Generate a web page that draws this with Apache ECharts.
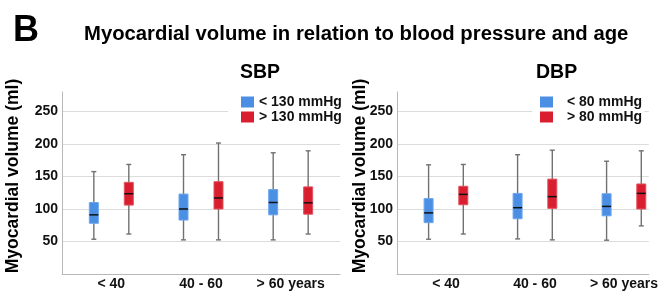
<!DOCTYPE html>
<html>
<head>
<meta charset="utf-8">
<script src="https://cdn.jsdelivr.net/npm/echarts@6/dist/echarts.min.js"></script>
<style>
  html, body { margin: 0; padding: 0; background: #fff; }
  #chart { width: 661px; height: 291px; }
</style>
</head>
<body>
<div id="chart"></div>
<script>
// age groups on the x axis
const ageGroups = ['< 40', '40 - 60', '> 60 years'];
const yTicks = [50, 100, 150, 200, 250];

// each row: [min, Q1, median, Q3, max] in ml
const sbpLow = [[53.5, 78, 91, 110, 157.5], [52.5, 83, 100, 123, 183.5], [52.5, 91, 110, 130, 186.5]];
const sbpHigh = [[61.5, 106, 123.5, 141, 168.5], [52.5, 100, 117, 142, 201.5], [61.5, 92, 109.5, 134, 189.5]];
const dbpLow = [[53.5, 79, 94, 116, 168], [54, 85, 102, 124, 183.5], [52, 89.5, 104, 123.5, 173.5]];
const dbpHigh = [[61.5, 106.5, 122.5, 135, 168.5], [52.5, 101, 119, 146, 190.5], [74, 100, 124, 138.5, 189.5]];

const BLUE = '#4a8fe4';
const RED = '#d91f2f';
const FONT = '"Liberation Sans", Arial, Helvetica, sans-serif';

function toRows(arr) {
  return arr.map(function (r, i) { return [i + 1].concat(r); });
}

function boxRenderer(offset, color, edge) {
  return function (params, api) {
    const x = api.value(0) + offset;
    const lo = api.coord([x, api.value(1)]);
    const q1 = api.coord([x, api.value(2)]);
    const md = api.coord([x, api.value(3)]);
    const q3 = api.coord([x, api.value(4)]);
    const hi = api.coord([x, api.value(5)]);
    const w = 9, cap = 5;
    const whisker = { stroke: '#717171', lineWidth: 1.4 };
    return {
      type: 'group',
      children: [
        { type: 'line', shape: { x1: hi[0], y1: hi[1], x2: lo[0], y2: lo[1] }, style: whisker },
        { type: 'line', shape: { x1: hi[0] - cap / 2, y1: hi[1], x2: hi[0] + cap / 2, y2: hi[1] }, style: whisker },
        { type: 'line', shape: { x1: lo[0] - cap / 2, y1: lo[1], x2: lo[0] + cap / 2, y2: lo[1] }, style: whisker },
        { type: 'rect', shape: { x: q3[0] - w / 2, y: q3[1], width: w, height: q1[1] - q3[1] },
          style: { fill: color, stroke: edge, lineWidth: 1 } },
        { type: 'line', shape: { x1: md[0] - w / 2, y1: md[1], x2: md[0] + w / 2, y2: md[1] },
          style: { stroke: '#111', lineWidth: 1.5 } }
      ]
    };
  };
}

function boxSeries(name, rows, axisIdx, offset, color, edge) {
  return {
    name: name,
    type: 'custom',
    xAxisIndex: axisIdx,
    yAxisIndex: axisIdx,
    itemStyle: { color: color },
    encode: { x: 0, y: [1, 2, 3, 4, 5] },
    data: toRows(rows),
    renderItem: boxRenderer(offset, color, edge)
  };
}

function makeYAxis(idx) {
  return {
    type: 'value',
    gridIndex: idx,
    min: 0,
    max: 280,
    interval: 50,
    axisLine: { show: true, lineStyle: { color: '#b8b8b8', width: 1 } },
    axisTick: { show: false },
    splitLine: { show: true, showMinLine: false, showMaxLine: false, lineStyle: { color: '#dcdcdc', width: 1 } },
    axisLabel: {
      showMinLabel: false,
      showMaxLabel: false,
      margin: 4,
      color: '#111',
      fontFamily: FONT,
      fontWeight: 'bold',
      fontSize: 14,
      formatter: function (v) { return yTicks.indexOf(v) >= 0 ? String(v) : ''; }
    }
  };
}

function makeXAxis(idx, max) {
  return {
    type: 'value',
    gridIndex: idx,
    min: 0.45,
    max: max,
    axisLine: { show: true, lineStyle: { color: '#b8b8b8', width: 1 } },
    axisTick: { show: false },
    splitLine: { show: false },
    axisLabel: {
      customValues: [1, 2, 3],
      margin: 3,
      color: '#111',
      fontFamily: FONT,
      fontWeight: 'bold',
      fontSize: 14,
      formatter: function (v) { return ageGroups[Math.round(v) - 1] || ''; }
    }
  };
}

function makeLegend(names, left, padLeft, textPad) {
  return {
    orient: 'vertical',
    left: left,
    top: 92,
    data: names,
    icon: 'rect',
    itemWidth: 13,
    itemHeight: 11,
    itemGap: 1,
    backgroundColor: '#fff',
    padding: [3, 2, 3, padLeft],
    textStyle: {
      color: '#111',
      fontFamily: FONT,
      fontWeight: 'bold',
      fontSize: 14,
      lineHeight: 14,
      padding: [0, 0, 0, textPad]
    }
  };
}

function titleText(text, left, top, size) {
  return {
    text: text, left: left, top: top, padding: 0,
    textStyle: { fontFamily: FONT, fontWeight: 'bold', fontSize: size, color: '#000' }
  };
}

const chart = echarts.init(document.getElementById('chart'), null, { renderer: 'canvas' });

chart.setOption({
  animation: false,
  backgroundColor: '#fff',
  title: [
    titleText('B', 13, 13, 36),
    titleText('Myocardial volume in relation to blood pressure and age', 84, 24, 20.3),
    titleText('SBP', 240, 63, 19.5),
    titleText('DBP', 536, 63, 19.5)
  ],
  legend: [
    makeLegend(['< 130 mmHg', '> 130 mmHg'], 228, 13, 0),
    makeLegend(['< 80 mmHg', '> 80 mmHg'], 532, 8, 9)
  ],
  grid: [
    { left: 62, top: 92, right: 321, bottom: 15 },
    { left: 397, top: 92, right: 10, bottom: 15 }
  ],
  xAxis: [makeXAxis(0, 3.55), makeXAxis(1, 3.28)],
  yAxis: [makeYAxis(0), makeYAxis(1)],
  graphic: [
    { type: 'text', x: 13, y: 176, rotation: Math.PI / 2,
      style: { text: 'Myocardial volume (ml)', align: 'center', verticalAlign: 'middle', fill: '#000',
               font: 'bold 17.5px ' + FONT } },
    { type: 'text', x: 360, y: 176, rotation: Math.PI / 2,
      style: { text: 'Myocardial volume (ml)', align: 'center', verticalAlign: 'middle', fill: '#000',
               font: 'bold 17.5px ' + FONT } }
  ],
  series: [
    boxSeries('< 130 mmHg', sbpLow, 0, -0.195, BLUE, '#6ea6ec'),
    boxSeries('> 130 mmHg', sbpHigh, 0, 0.195, RED, '#e2525e'),
    boxSeries('< 80 mmHg', dbpLow, 1, -0.195, BLUE, '#6ea6ec'),
    boxSeries('> 80 mmHg', dbpHigh, 1, 0.195, RED, '#e2525e')
  ]
});
</script>
</body>
</html>
